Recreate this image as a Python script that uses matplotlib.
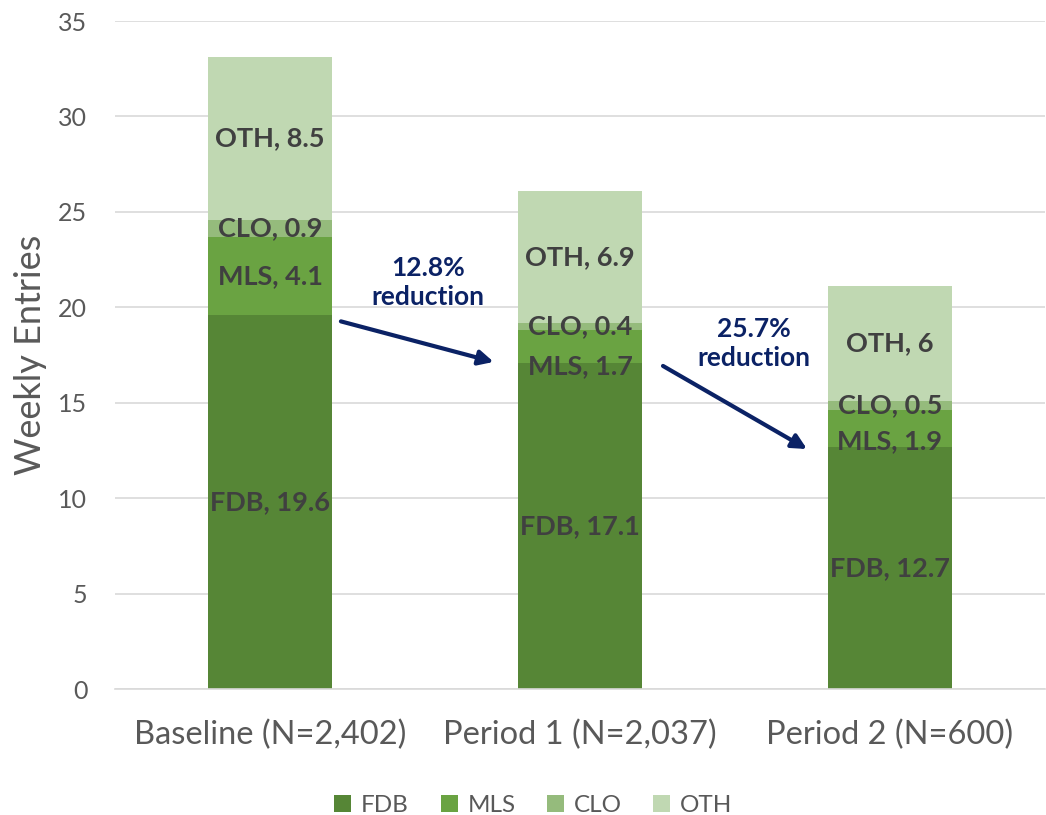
import matplotlib
matplotlib.use('Agg')
import matplotlib.pyplot as plt
import numpy as np

plt.rcParams['font.family'] = ['Lato', 'DejaVu Sans']

categories = ['Baseline (N=2,402)', 'Period 1 (N=2,037)', 'Period 2 (N=600)']
series = ['FDB', 'MLS', 'CLO', 'OTH']
fdb = [19.6, 17.1, 12.7]
mls = [4.1, 1.7, 1.9]
clo = [0.9, 0.4, 0.5]
oth = [8.5, 6.9, 6]
reductions = ['12.8%', '25.7%']

colors = ['#568636', '#6aa342', '#95bb7c', '#c0d8b2']
# labels pushed apart where small segments crowd each other (like Excel does)
nudge = {('MLS', 1): -1.05, ('MLS', 2): -0.65}

fig = plt.figure(figsize=(10.46, 8.15), dpi=100)
ax = fig.add_axes([0.110, 0.1546, 0.889, 0.8196])

x = np.arange(len(categories))
bottom = np.zeros(len(categories))
for name, vals, col in zip(series, [fdb, mls, clo, oth], colors):
    ax.bar(x, vals, width=0.40, bottom=bottom, color=col, label=name, zorder=2)
    for xi, b, v in zip(x, bottom, vals):
        ax.text(xi, b + v / 2 + nudge.get((name, xi), 0), f'{name}, {v:g}',
                ha='center', va='center', fontsize=19.5, fontweight='bold',
                color='#404040', zorder=3)
    bottom += np.array(vals)

# arrows between bars
arrows = [((0.22, 19.3), (0.73, 17.1)), ((1.26, 17.0), (1.74, 12.5))]
text_pos = [(0.51, 21.3), (1.56, 18.1)]
for (s, e), (tx, ty), r in zip(arrows, text_pos, reductions):
    ax.annotate('', xy=e, xytext=s,
                arrowprops=dict(arrowstyle='-|>', color='#0b2265', lw=3,
                                mutation_scale=22), zorder=4)
    ax.text(tx, ty, f'{r}\nreduction', ha='center', va='center', fontsize=19,
            fontweight='bold', color='#0b2265', linespacing=1.25)

ax.set_xlim(-0.5, 2.5)
ax.set_ylim(0, 35)
ax.set_yticks(range(0, 36, 5))
ax.set_xticks(x)
ax.set_xticklabels(categories, fontsize=23.5, color='#595959')
ax.tick_params(axis='y', labelsize=18, colors='#595959', length=0, pad=20)
ax.tick_params(axis='x', length=0, pad=22)
ax.set_ylabel('Weekly Entries', fontsize=26, color='#595959', labelpad=8)
ax.grid(axis='y', color='#d9d9d9', lw=1.2, zorder=0)
for sp in ['top', 'right', 'left']:
    ax.spines[sp].set_visible(False)
ax.spines['bottom'].set_color('#d9d9d9')
ax.spines['bottom'].set_linewidth(1.2)

leg = fig.legend(loc='lower center', ncol=4, frameon=False, fontsize=17.5,
                 bbox_to_anchor=(0.51, -0.028), handlelength=0.7, handleheight=0.7,
                 columnspacing=1.3, handletextpad=0.4)
for t in leg.get_texts():
    t.set_color('#595959')

fig.savefig('out.png', dpi=100)
